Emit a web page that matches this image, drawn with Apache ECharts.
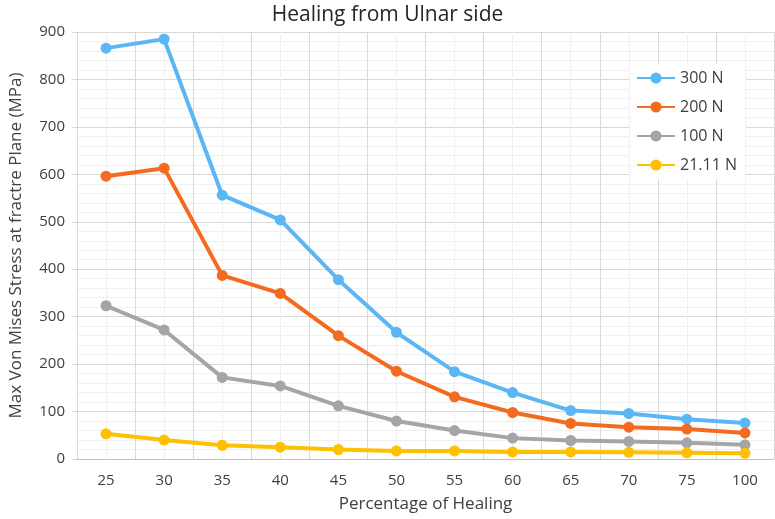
<!DOCTYPE html>
<html><head><meta charset="utf-8">
<script src="https://cdn.jsdelivr.net/npm/echarts@6/dist/echarts.min.js"></script>
<style>html,body{margin:0;padding:0;background:#fff}#c{width:775px;height:519px}</style>
</head><body><div id="c"></div>
<script>
const categories = ['25','30','35','40','45','50','55','60','65','70','75','100'];
const s300 = [866, 885, 556, 504, 378, 267, 184, 140, 102, 96, 84, 76];
const s200 = [596, 613, 387, 349, 260, 185, 131, 98, 75, 67, 63, 55];
const s100 = [323, 272, 172, 154, 112, 80, 60, 44, 39, 37, 34, 30];
const s21 = [53, 40, 29, 25, 20, 17, 17, 15, 15, 14, 13, 12];
const seriesNames = ['300 N', '200 N', '100 N', '21.11 N'];
const colors = ['#5BB6F6', '#F46A1F', '#A5A5A5', '#FFC000'];
const font = '"Open Sans", "Noto Sans", sans-serif';

const chart = echarts.init(document.getElementById('c'));
const mk = (name, data, color) => ({
  name, type: 'line', data, xAxisIndex: 0, yAxisIndex: 0,
  symbol: 'circle', symbolSize: 11,
  lineStyle: { width: 4, color }, itemStyle: { color },
  z: 5
});
chart.setOption({
  animation: false,
  title: { text: 'Healing from Ulnar side', left: 'center', top: 0,
    textStyle: { fontFamily: font, fontSize: 21, fontWeight: 'normal', color: '#262626' } },
  legend: {
    orient: 'vertical', right: 30, top: 64, itemGap: 13,
    backgroundColor: '#fff', padding: [6, 8, 6, 6],
    itemWidth: 38, itemHeight: 14, itemStyle: { borderWidth: 0 },
    textStyle: { fontFamily: font, fontSize: 16, color: '#404040' },
    data: seriesNames
  },
  grid: { left: 75, right: 1, top: 32, bottom: 60 },
  xAxis: [{
    type: 'category', data: categories, boundaryGap: true,
    name: 'Percentage of Healing', nameLocation: 'middle', nameGap: 37,
    nameTextStyle: { fontFamily: font, fontSize: 17, color: '#404040' },
    axisLine: { lineStyle: { color: '#BFBFBF', width: 1 } },
    axisTick: { show: false },
    axisLabel: { fontFamily: font, fontSize: 15, color: '#404040', margin: 14 },
    splitLine: { show: true, lineStyle: { color: '#D9D9D9', width: 1 } },
    z: 3
  }, {
    type: 'value', min: 0, max: 24, interval: 1, position: 'bottom',
    axisLine: { show: false }, axisTick: { show: false }, axisLabel: { show: false },
    splitLine: { show: true, lineStyle: { color: '#F0F0F0', width: 1 } }
  }],
  yAxis: {
    type: 'value', min: 0, max: 900, interval: 100,
    name: 'Max Von Mises Stress at fractre Plane (MPa)', nameLocation: 'middle', nameGap: 52,
    nameTextStyle: { fontFamily: font, fontSize: 17, color: '#404040' },
    axisLine: { show: true, lineStyle: { color: '#D9D9D9' } },
    axisLabel: { fontFamily: font, fontSize: 15, color: '#404040', margin: 12 },
    splitLine: { lineStyle: { color: '#D9D9D9', width: 1 } },
    minorTick: { show: false, splitNumber: 5 },
    minorSplitLine: { show: true, lineStyle: { color: '#F0F0F0', width: 1 } }
  },
  series: [
    mk(seriesNames[0], s300, colors[0]),
    mk(seriesNames[1], s200, colors[1]),
    mk(seriesNames[2], s100, colors[2]),
    mk(seriesNames[3], s21, colors[3])
  ]
});
</script></body></html>
